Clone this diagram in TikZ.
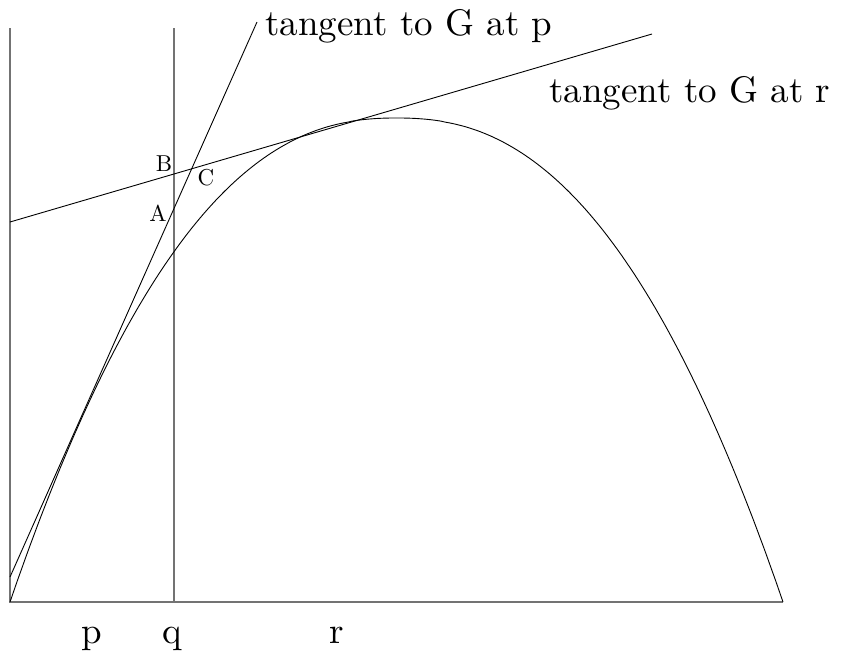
\documentclass[tikz,border=0pt]{standalone}
\usepackage{fontspec}
\usepackage{tikz}
\usetikzlibrary{positioning, calc}
\newfontfamily\plotfont{lmroman10-regular.otf}

\begin{document}
\begin{tikzpicture}[
    x=0.5pt, y=-0.5pt,
    axis line/.style={draw=black!55, line width=0.7pt},
    graph line/.style={draw=black, line width=0.45pt},
    big label/.style={font=\plotfont\fontsize{18.5}{22}\selectfont, inner sep=0pt, anchor=base},
    point label/.style={font=\plotfont\fontsize{11.5}{13}\selectfont, inner sep=0pt}
]
\useasboundingbox (0,0) rectangle (841,654);
\coordinate (origin) at (10,602);
\coordinate (ytop) at (10,28);
\coordinate (xend) at (783,602);
\coordinate (qtop) at (174,28);
\coordinate (qfoot) at (174,602);
\coordinate (tanpstart) at (10,577);
\coordinate (tanpend) at (257,22);
\coordinate (tanrstart) at (10,222);
\coordinate (tanrend) at (652,34);

\draw[axis line] (ytop) -- (origin) -- (xend);
\draw[axis line] (qtop) -- (qfoot);
\draw[graph line] plot[domain=10:783, samples=200, smooth]
    (\x, {602-484*(1-abs((\x-396.5)/386.5)^2.33)});
\draw[graph line] (tanpstart) -- (tanpend);
\draw[graph line] (tanrstart) -- (tanrend);

\node[big label, anchor=base west] (tanplabel) at (265,35) {tangent to G at p};
\node[big label, anchor=base west] (tanrlabel) at (549,102) {tangent to G at r};
\node[big label] (plabel) at (92,643) {p};
\node[big label] (qlabel) at (172,643) {q};
\node[big label] (rlabel) at (337,643) {r};
\node[point label] (blabel) at (164,164) {B};
\node[point label] (clabel) at (206,178) {C};
\node[point label] (alabel) at (158,213) {A};
\end{tikzpicture}
\end{document}
